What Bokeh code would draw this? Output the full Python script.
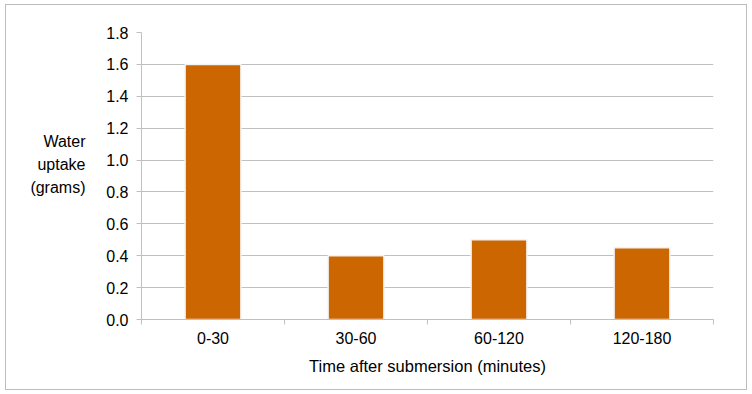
from bokeh.plotting import figure
from bokeh.models import (FactorRange, Range1d, FixedTicker, LinearAxis,
                          PrintfTickFormatter)
from bokeh.embed import file_html
from bokeh.resources import INLINE

categories = ["0-30", "30-60", "60-120", "120-180"]
uptake = [1.6, 0.4, 0.5, 0.45]
y_ticks = [0.0, 0.2, 0.4, 0.6, 0.8, 1.0, 1.2, 1.4, 1.6, 1.8]
y_label_lines = ["Water", "uptake", "(grams)"]
x_label = "Time after submersion (minutes)"

FONT = "Liberation Sans"
FS = "16px"
FS_LAB = "16.5px"
GRID = "#c0c0c0"
BAR = "#cc6600"

n = len(categories)
p = figure(x_range=FactorRange(*categories), y_range=Range1d(0, max(y_ticks)),
           width=742, height=386, output_backend="svg", toolbar_location=None,
           x_axis_location=None, min_border_left=135, min_border_right=35,
           min_border_top=27, min_border_bottom=72, outline_line_color=None)
p.styles = {"border": "1px solid #bdbdbd", "margin": "4px 0px 0px 5px"}

p.vbar(x=categories, top=uptake, width=0.39, fill_color=BAR,
       line_color="#f2f2f2", line_width=1.5)

# y axis
ya = p.yaxis[0]
ya.ticker = FixedTicker(ticks=y_ticks, minor_ticks=[])
ya.formatter = PrintfTickFormatter(format="%.1f")
ya.axis_line_color = GRID
ya.major_tick_line_color = GRID
ya.major_tick_in = 0
ya.major_tick_out = 5
ya.minor_tick_line_color = None
ya.major_label_text_font = FONT
ya.major_label_text_font_size = FS
ya.major_label_text_color = "#000000"
ya.major_label_standoff = 8

# invisible carrier axis for the horizontal y title
# (a trailing empty line lifts the three text lines a little above centre)
ta = LinearAxis(ticker=FixedTicker(ticks=[], minor_ticks=[]))
ta.axis_line_color = None
ta.major_tick_line_color = None
ta.minor_tick_line_color = None
ta.major_tick_out = 0
ta.major_tick_in = 0
ta.minor_tick_out = 0
ta.major_label_text_font_size = "0px"
ta.major_label_standoff = 0
ta.axis_label = "\n".join(y_label_lines) + "\n"
ta.axis_label_orientation = "horizontal"
ta.axis_label_text_font = FONT
ta.axis_label_text_font_size = FS
ta.axis_label_text_font_style = "normal"
ta.axis_label_text_color = "#000000"
ta.axis_label_text_align = "left"
ta.axis_label_text_line_height = 1.35
ta.axis_label_standoff = 18
p.add_layout(ta, "left")

p.ygrid.ticker = FixedTicker(ticks=y_ticks)
p.ygrid.grid_line_color = GRID
p.xgrid.visible = False

# x axis in the factor range's synthetic coordinates:
# labels at category centres, tick marks at category boundaries
centres = [i + 0.5 for i in range(n)]
xa = LinearAxis(ticker=FixedTicker(ticks=centres, minor_ticks=list(range(n + 1))),
                major_label_overrides={c: lab for c, lab in zip(centres, categories)})
xa.axis_line_color = GRID
xa.major_tick_line_color = None
xa.major_tick_out = 0
xa.major_tick_in = 0
xa.minor_tick_line_color = GRID
xa.minor_tick_out = 5
xa.minor_tick_in = 0
xa.major_label_text_font = FONT
xa.major_label_text_font_size = FS
xa.major_label_text_color = "#000000"
xa.major_label_standoff = 7
xa.axis_label = x_label
xa.axis_label_text_font = FONT
xa.axis_label_text_font_size = FS_LAB
xa.axis_label_text_font_style = "normal"
xa.axis_label_text_color = "#000000"
xa.axis_label_standoff = 10
p.add_layout(xa, "below")

open("out.html", "w").write(file_html(p, INLINE))
